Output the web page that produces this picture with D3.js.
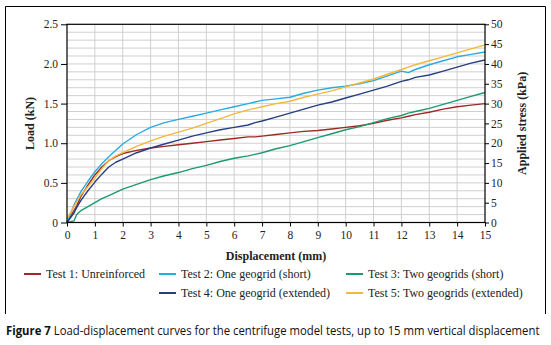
<!DOCTYPE html>
<html><head><meta charset="utf-8">
<script src="https://cdn.jsdelivr.net/npm/d3@7"></script>
<style>
html,body{margin:0;padding:0;background:#fff;}
svg{display:block;}
</style></head>
<body>
<svg id="chart" width="551" height="345"></svg>
<script>
const displacement = [0,0.25,0.35,0.5,0.75,1,1.25,1.5,1.75,2,2.5,3,3.5,4,4.5,5,5.5,6,6.5,6.75,7,7.5,8,8.5,9,9.5,10,10.5,11,11.5,12,12.25,12.5,13,13.5,14,14.5,15];
const test1 = [0,0.15,0.21,0.33,0.47,0.60,0.70,0.78,0.83,0.87,0.91,0.94,0.96,0.98,1.00,1.02,1.04,1.06,1.08,1.08,1.09,1.11,1.13,1.15,1.16,1.18,1.20,1.22,1.25,1.29,1.32,1.34,1.36,1.39,1.43,1.46,1.48,1.50];
const test2 = [0,0.22,0.29,0.39,0.52,0.64,0.74,0.83,0.91,0.99,1.11,1.20,1.26,1.30,1.34,1.38,1.42,1.46,1.50,1.52,1.54,1.56,1.58,1.63,1.67,1.70,1.72,1.75,1.79,1.85,1.91,1.89,1.93,1.99,2.04,2.09,2.12,2.15];
const test3 = [0,0.02,0.10,0.15,0.20,0.25,0.30,0.34,0.38,0.42,0.48,0.54,0.59,0.63,0.68,0.72,0.77,0.81,0.84,0.86,0.88,0.93,0.97,1.02,1.07,1.12,1.17,1.21,1.26,1.31,1.35,1.38,1.40,1.44,1.49,1.54,1.59,1.64];
const test4 = [0,0.12,0.19,0.28,0.40,0.51,0.61,0.70,0.76,0.80,0.88,0.94,0.99,1.04,1.09,1.13,1.17,1.20,1.23,1.26,1.28,1.33,1.38,1.43,1.48,1.52,1.57,1.62,1.67,1.72,1.78,1.80,1.83,1.86,1.91,1.96,2.01,2.05];
const test5 = [0.05,0.20,0.26,0.35,0.45,0.56,0.68,0.78,0.84,0.88,0.96,1.03,1.09,1.14,1.19,1.25,1.31,1.37,1.42,1.44,1.46,1.50,1.53,1.58,1.62,1.66,1.71,1.76,1.81,1.87,1.93,1.96,1.99,2.04,2.09,2.14,2.19,2.24];
const seriesNames = ["Test 1: Unreinforced","Test 2: One geogrid (short)","Test 3: Two geogrids (short)","Test 4: One geogrid (extended)","Test 5: Two geogrids (extended)"];
const seriesColors = ["#9b2b24","#2aaae2","#1c9a6d","#263f80","#f2b83c"];
const xTicks = d3.range(0,16,1);
const yTicks = [0,0.5,1.0,1.5,2.0,2.5];
const yTickLabels = ["0","0.5","1.0","1.5","2.0","2.5"];
const y2Ticks = [0,5,10,15,20,25,30,35,40,45,50];
const captionBold = "Figure 7";
const captionText = " Load-displacement curves for the centrifuge model tests, up to 15 mm vertical displacement";

const seriesValues = [test1,test2,test3,test4,test5];
const svg = d3.select("#chart");
const L = 67, R = 485, T = 24.3, B = 222.5;
const serif = "'Liberation Serif', serif";

const x = d3.scaleLinear().domain([0,15]).range([L,R]);
const y = d3.scaleLinear().domain([0,2.5]).range([B,T]);
const y2 = d3.scaleLinear().domain([0,50]).range([B,T]);

// outer frame (left, top, right)
svg.append("path").attr("d", `M5.5,314 V6.5 H545.5 V314`).attr("fill","none").attr("stroke","#000").attr("stroke-width",1);

// gridlines
const g = svg.append("g");
g.selectAll(".vg").data(xTicks.slice(1,-1)).enter().append("line")
  .attr("x1",d=>x(d)).attr("x2",d=>x(d)).attr("y1",T).attr("y2",B)
  .attr("stroke","#cfcfcf").attr("stroke-width",1);
g.selectAll(".hg").data(d3.range(1,25).map(i=>i/10)).enter().append("line")
  .attr("x1",L).attr("x2",R).attr("y1",d=>y(d)).attr("y2",d=>y(d))
  .attr("stroke","#cfcfcf").attr("stroke-width",1);

// lines
const line = d3.line().x(d=>x(d[0])).y(d=>y(d[1]));
seriesValues.forEach((vals,i)=>{
  svg.append("path").datum(displacement.map((d,j)=>[d,vals[j]]))
    .attr("d",line).attr("fill","none").attr("stroke",seriesColors[i])
    .attr("stroke-width",1.4).attr("stroke-linejoin","round");
});

// plot border
svg.append("rect").attr("x",L).attr("y",T).attr("width",R-L).attr("height",B-T)
  .attr("fill","none").attr("stroke","#000").attr("stroke-width",1.2);

// axes
const xAxis = svg.append("g").attr("transform",`translate(0,${B})`)
  .call(d3.axisBottom(x).tickValues(xTicks).tickFormat(d3.format("d")).tickSize(4).tickPadding(4));
const yAxis = svg.append("g").attr("transform",`translate(${L},0)`)
  .call(d3.axisLeft(y).tickValues(yTicks).tickFormat((d,i)=>yTickLabels[i]).tickSize(6).tickPadding(3));
const y2Axis = svg.append("g").attr("transform",`translate(${R},0)`)
  .call(d3.axisRight(y2).tickValues(y2Ticks).tickFormat(d3.format("d")).tickSize(4).tickPadding(2));
[xAxis,yAxis,y2Axis].forEach(a=>{
  a.select(".domain").remove();
  a.selectAll("line").attr("stroke","#000").attr("stroke-width",1);
  a.selectAll("text").attr("font-family",serif).attr("font-size","11.5px").attr("fill","#222");
});

// axis titles
svg.append("text").attr("x",(L+R)/2).attr("y",260).attr("text-anchor","middle")
  .attr("font-family",serif).attr("font-weight","bold").attr("font-size","12px").attr("fill","#222")
  .text("Displacement (mm)");
svg.append("text").attr("transform",`translate(34,${(T+B)/2}) rotate(-90)`).attr("text-anchor","middle")
  .attr("font-family",serif).attr("font-weight","bold").attr("font-size","12px").attr("fill","#222")
  .text("Load (kN)");
svg.append("text").attr("transform",`translate(526,${(T+B)/2}) rotate(-90)`).attr("text-anchor","middle")
  .attr("font-family",serif).attr("font-weight","bold").attr("font-size","12px").attr("fill","#222")
  .text("Applied stress (kPa)");

// legend
const legPos = [[24,274],[159,274],[346,274],[159,293],[346,293]];
seriesNames.forEach((name,i)=>{
  const [lx,ly] = legPos[i];
  svg.append("line").attr("x1",lx).attr("x2",lx+17).attr("y1",ly).attr("y2",ly)
    .attr("stroke",seriesColors[i]).attr("stroke-width",2);
  svg.append("text").attr("x",lx+22).attr("y",ly+4).attr("font-family",serif)
    .attr("font-size","12px").attr("fill","#222").text(name);
});

// caption, horizontally condensed to fit the frame width
const capG = svg.append("g");
const cap = capG.append("text").attr("x",0).attr("y",0).attr("font-family","'Open Sans', sans-serif")
  .attr("font-size","12.5px").attr("fill","#111");
cap.append("tspan").attr("font-weight","bold").text(captionBold);
cap.append("tspan").text(captionText);
const natW = cap.node().getComputedTextLength();
const sx = Math.min(1, 534 / natW);
capG.attr("transform",`translate(6,335) scale(${sx},1)`);
</script>
</body></html>
